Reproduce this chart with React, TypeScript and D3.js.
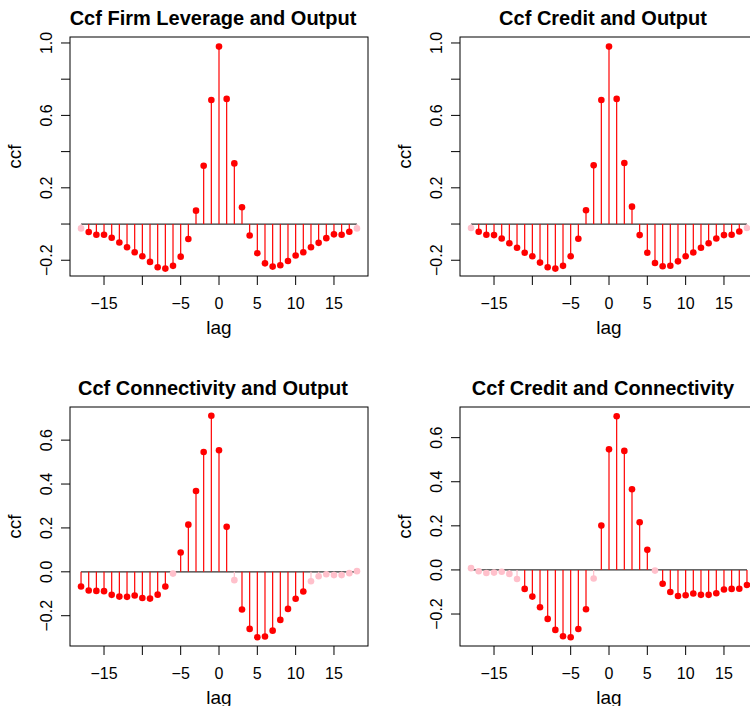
import React from 'react';
import * as d3 from 'd3';

// lags shared by every panel
const lags = [
  -18, -17, -16, -15, -14, -13, -12, -11, -10, -9, -8, -7, -6, -5, -4, -3, -2, -1,
  0, 1, 2, 3, 4, 5, 6, 7, 8, 9, 10, 11, 12, 13, 14, 15, 16, 17, 18,
];

const titles = [
  'Ccf Firm Leverage and Output',
  'Ccf Credit and Output',
  'Ccf Connectivity and Output',
  'Ccf Credit and Connectivity',
];

const leverageOutput = [
  -0.024, -0.044, -0.059, -0.059, -0.076, -0.102, -0.128, -0.156, -0.178, -0.209, -0.239, -0.246,
  -0.231, -0.18, -0.083, 0.074, 0.322, 0.685, 0.98, 0.691, 0.335, 0.093, -0.063, -0.161, -0.217,
  -0.235, -0.228, -0.204, -0.174, -0.156, -0.128, -0.104, -0.078, -0.057, -0.059, -0.043, -0.024,
];
const creditOutput = [
  -0.022, -0.043, -0.059, -0.061, -0.08, -0.106, -0.131, -0.159, -0.178, -0.213, -0.239, -0.246,
  -0.231, -0.178, -0.081, 0.076, 0.324, 0.685, 0.98, 0.691, 0.337, 0.096, -0.061, -0.159, -0.215,
  -0.233, -0.23, -0.206, -0.178, -0.157, -0.131, -0.106, -0.08, -0.061, -0.059, -0.041, -0.022,
];
const connectivityOutput = [
  -0.067, -0.085, -0.087, -0.088, -0.105, -0.113, -0.114, -0.108, -0.119, -0.122, -0.104, -0.067,
  -0.008, 0.088, 0.215, 0.368, 0.546, 0.711, 0.554, 0.205, -0.038, -0.172, -0.26, -0.298, -0.295,
  -0.268, -0.219, -0.169, -0.123, -0.09, -0.043, -0.02, -0.011, -0.015, -0.015, -0.006, 0.003,
];
const creditConnectivity = [
  0.008, -0.006, -0.014, -0.012, -0.008, -0.018, -0.041, -0.086, -0.121, -0.169, -0.222, -0.272,
  -0.301, -0.305, -0.268, -0.178, -0.039, 0.201, 0.547, 0.697, 0.54, 0.366, 0.216, 0.091, -0.003,
  -0.063, -0.1, -0.118, -0.115, -0.107, -0.113, -0.113, -0.106, -0.089, -0.086, -0.085, -0.068,
];

// lags drawn faint (not significant)
const faintLags = [
  [-18, 18],
  [-18, 18],
  [-6, 2, 12, 13, 14, 15, 16, 17, 18],
  [-18, -17, -16, -15, -14, -13, -12, -2, 6],
];

const yLimits = [
  [-0.287, 1.033],
  [-0.287, 1.033],
  [-0.338, 0.751],
  [-0.345, 0.739],
];
const xTicks = [-15, -10, -5, 0, 5, 10, 15];
const xTickLabels = ['\u221215', '', '\u22125', '0', '5', '10', '15'];
const yTicks = [
  [-0.2, 0, 0.2, 0.4, 0.6, 0.8, 1.0],
  [-0.2, 0, 0.2, 0.4, 0.6, 0.8, 1.0],
  [-0.2, 0, 0.2, 0.4, 0.6],
  [-0.2, 0, 0.2, 0.4, 0.6],
];
const yTickLabels = [
  ['\u22120.2', '', '0.2', '', '0.6', '', '1.0'],
  ['\u22120.2', '', '0.2', '', '0.6', '', '1.0'],
  ['\u22120.2', '0.0', '0.2', '0.4', '0.6'],
  ['\u22120.2', '0.0', '0.2', '0.4', '0.6'],
];

const series = [leverageOutput, creditOutput, connectivityOutput, creditConnectivity];

const font = '"Liberation Sans", Arial, Helvetica, sans-serif';
const panelW = 390;
const panelH = 370;
const box = { left: 70, right: 368, top: 37, bottom: 276 };

function Panel({ i }: { i: number }) {
  const values = series[i];
  const x = d3.scaleLinear().domain([-19.44, 19.44]).range([box.left, box.right]);
  const y = d3.scaleLinear().domain(yLimits[i]).range([box.bottom, box.top]);
  const cx = (box.left + box.right) / 2;
  const cy = (box.top + box.bottom) / 2;
  const ox = (i % 2) * panelW;
  const oy = Math.floor(i / 2) * panelH;

  return (
    <g transform={`translate(${ox},${oy})`} fontFamily={font}>
      <text x={cx - 6} y={25} textAnchor="middle" fontWeight="bold" fontSize={20}>
        {titles[i]}
      </text>

      {/* zero line */}
      <line x1={x(lags[0])} x2={x(lags[lags.length - 1])} y1={y(0)} y2={y(0)} stroke="#333" strokeWidth={1.3} />

      {lags.map((lag, k) => {
        const faint = faintLags[i].includes(lag);
        const c = faint ? '#FFC0CB' : '#FF0000';
        return (
          <g key={lag}>
            <line x1={x(lag)} x2={x(lag)} y1={y(0)} y2={y(values[k])} stroke={c} strokeWidth={1.2} />
            <circle cx={x(lag)} cy={y(values[k])} r={3.3} fill={c} />
          </g>
        );
      })}

      <rect x={box.left} y={box.top} width={box.right - box.left} height={box.bottom - box.top}
        fill="none" stroke="#000" strokeWidth={1} />

      {/* x axis */}
      {xTicks.map((t, k) => (
        <g key={t}>
          <line x1={x(t)} x2={x(t)} y1={box.bottom} y2={box.bottom + 9} stroke="#000" />
          <text x={x(t)} y={308.5} textAnchor="middle" fontSize={16}>{xTickLabels[k]}</text>
        </g>
      ))}
      <text x={cx} y={334} textAnchor="middle" fontSize={19}>lag</text>

      {/* y axis */}
      {yTicks[i].map((t, k) => (
        <g key={t}>
          <line x1={box.left - 9} x2={box.left} y1={y(t)} y2={y(t)} stroke="#000" />
          <text transform={`translate(52,${y(t)}) rotate(-90)`} textAnchor="middle" fontSize={16}>
            {yTickLabels[i][k]}
          </text>
        </g>
      ))}
      <text transform={`translate(21,${cy}) rotate(-90)`} textAnchor="middle" fontSize={19}>ccf</text>
    </g>
  );
}

export default function App() {
  return (
    <svg width={750} height={706} style={{ position: 'absolute', left: 0, top: 0, background: '#fff' }}>
      <rect width={750} height={706} fill="#fff" />
      {[0, 1, 2, 3].map(i => <Panel key={i} i={i} />)}
    </svg>
  );
}
